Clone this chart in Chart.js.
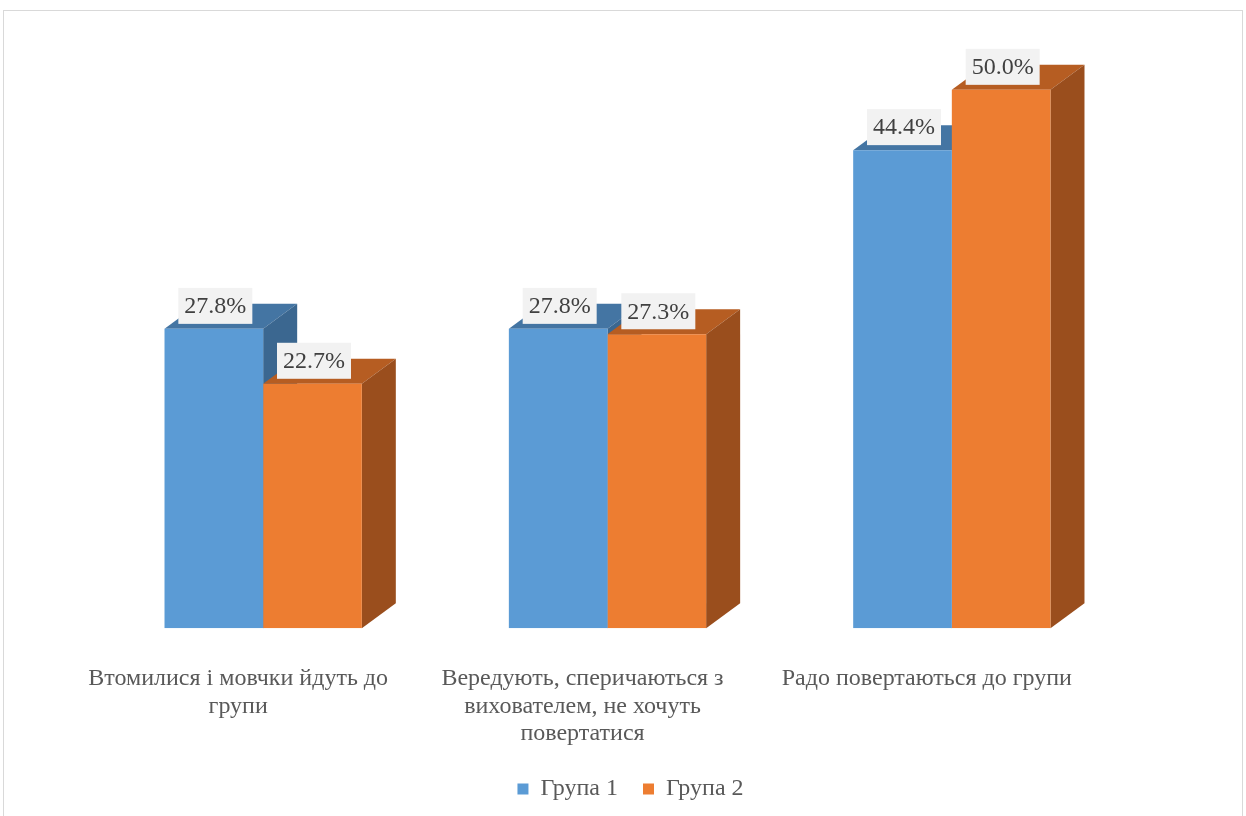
<!DOCTYPE html>
<html lang="uk">
<head>
<meta charset="UTF-8">
<title>Групи</title>
<script src="https://cdn.jsdelivr.net/npm/chart.js"></script>
<style>
    html, body { margin: 0; padding: 0; background: #fff; overflow: hidden; }
    #frame { position: absolute; left: 3px; top: 10px; width: 1238px; height: 830px; border: 1px solid #d9d9d9; }
    #chart { position: absolute; left: 0; top: 0; }
</style>
</head>
<body>
<div id="frame"></div>
<canvas id="chart" width="1246" height="811"></canvas>

<script>
    // data
    var categories = [
        ['Втомилися і мовчки йдуть до', 'групи'],
        ['Вередують, сперичаються з', 'вихователем, не хочуть', 'повертатися'],
        'Радо повертаються до групи'
    ];
    var group1 = [27.8, 27.8, 44.4];
    var group2 = [22.7, 27.3, 50.0];
    var seriesNames = ['Група 1', 'Група 2'];

    var faces = [
        { front: '#5b9bd5', top: '#4475a3', side: '#3b6790' },
        { front: '#ed7d31', top: '#b65d22', side: '#9a4e1d' }
    ];
    var DX = 34, DY = 25;
    var serif = '"Liberation Serif", "Times New Roman", serif';

    // top and side faces are drawn first, the library then paints the front faces
    var depthPlugin = {
        id: 'depth',
        afterLayout: function(chart) {
            // legend sits a bit right of the plot centre in the original
            chart.legend.left += 23;
            chart.legend.right += 23;
        },
        beforeDatasetsDraw: function(chart) {
            var ctx = chart.ctx;
            var n = chart.data.labels.length;
            for (var i = 0; i < n; i++) {
                chart.data.datasets.forEach(function(ds, d) {
                    var bar = chart.getDatasetMeta(d).data[i];
                    var l = bar.x - bar.width / 2, r = bar.x + bar.width / 2;
                    var t = bar.y, b = bar.base;
                    ctx.fillStyle = faces[d].top;
                    ctx.beginPath();
                    ctx.moveTo(l, t); ctx.lineTo(l + DX, t - DY);
                    ctx.lineTo(r + DX, t - DY); ctx.lineTo(r, t);
                    ctx.closePath(); ctx.fill();
                    ctx.fillStyle = faces[d].side;
                    ctx.beginPath();
                    ctx.moveTo(r, t); ctx.lineTo(r + DX, t - DY);
                    ctx.lineTo(r + DX, b - DY); ctx.lineTo(r, b);
                    ctx.closePath(); ctx.fill();
                });
            }
        },
        afterDatasetsDraw: function(chart) {
            var ctx = chart.ctx;
            ctx.save();
            ctx.font = '24px ' + serif;
            ctx.textAlign = 'center';
            ctx.textBaseline = 'middle';
            chart.data.datasets.forEach(function(ds, d) {
                chart.getDatasetMeta(d).data.forEach(function(bar, i) {
                    var txt = ds.data[i].toFixed(1) + '%';
                    var w = ctx.measureText(txt).width + 12;
                    var cx = bar.x + 1.5, cy = bar.y - 23;
                    ctx.fillStyle = '#f2f2f2';
                    ctx.fillRect(cx - w / 2, cy - 18, w, 36);
                    ctx.fillStyle = '#404040';
                    ctx.fillText(txt, cx, cy + 1);
                });
            });
            ctx.restore();
        }
    };

    var ctx = document.getElementById('chart').getContext('2d');
    var chart = new Chart(ctx, {
        type: 'bar',
        data: {
            labels: categories,
            datasets: [{
                label: seriesNames[0],
                data: group1,
                backgroundColor: faces[0].front
            }, {
                label: seriesNames[1],
                data: group2,
                backgroundColor: faces[1].front
            }]
        },
        options: {
            responsive: false,
            animation: false,
            devicePixelRatio: 1,
            barPercentage: 1,
            categoryPercentage: 0.573,
            layout: { padding: { left: 91, right: 122, top: 36, bottom: 0 } },
            scales: {
                x: {
                    grid: { display: false, drawTicks: true, tickLength: 33 },
                    border: { display: false },
                    ticks: {
                        color: '#595959',
                        font: { family: serif, size: 24, lineHeight: 1.15 },
                        labelOffset: -25,
                        padding: 4,
                        maxRotation: 0,
                        autoSkip: false
                    }
                },
                y: {
                    display: false,
                    min: 0,
                    max: 55
                }
            },
            plugins: {
                tooltip: { enabled: false },
                legend: {
                    position: 'bottom',
                    labels: {
                        color: '#595959',
                        font: { family: serif, size: 24 },
                        boxWidth: 11,
                        boxHeight: 11,
                        padding: 25
                    }
                }
            }
        },
        plugins: [depthPlugin]
    });
</script>
</body>
</html>
